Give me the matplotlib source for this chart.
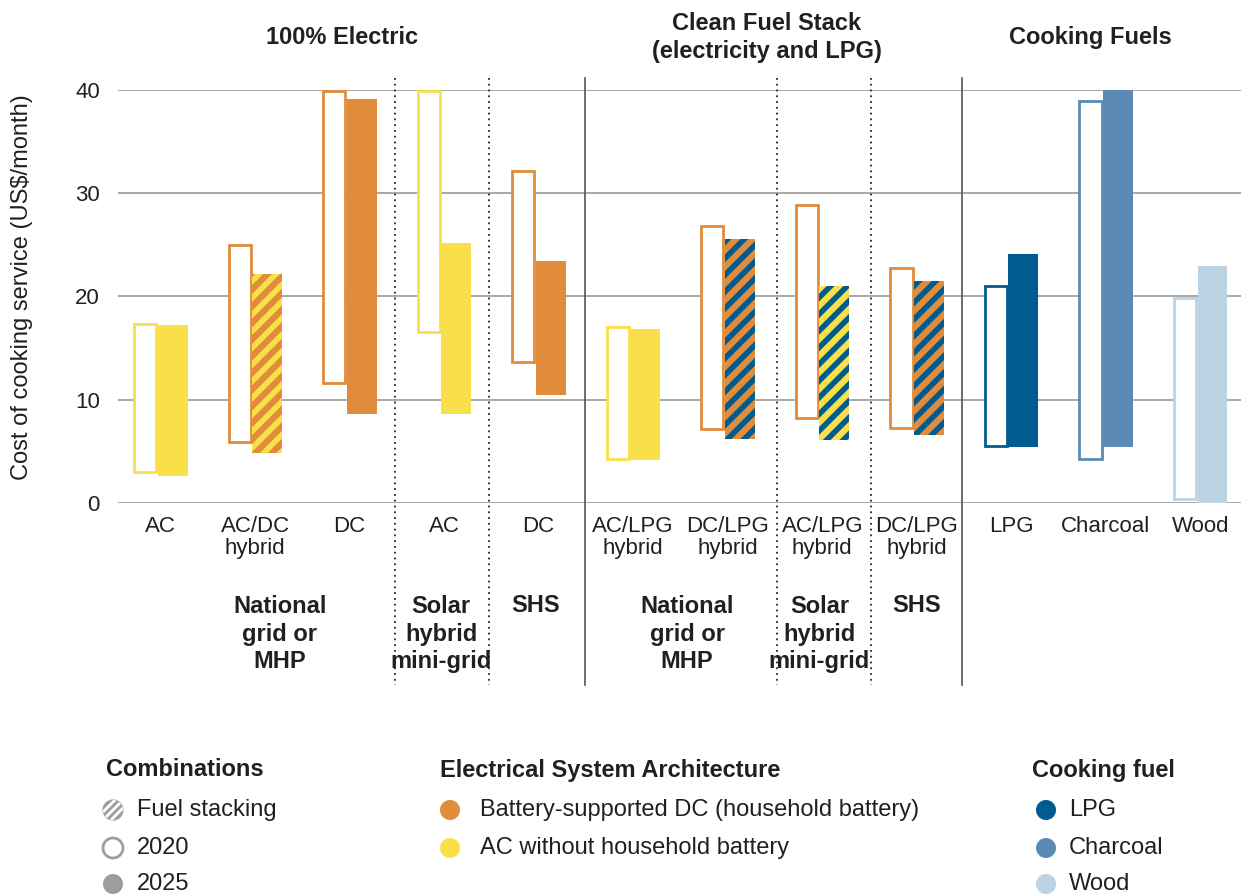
import numpy as np
import matplotlib
matplotlib.use("Agg")
import matplotlib.pyplot as plt
from matplotlib.patches import Circle
from matplotlib.lines import Line2D

plt.rcParams['font.family'] = ['Liberation Sans', 'DejaVu Sans']
plt.rcParams['hatch.linewidth'] = 4.0

# --- data ---
categories = ["AC", "AC/DC\nhybrid", "DC", "AC", "DC",
              "AC/LPG\nhybrid", "DC/LPG\nhybrid", "AC/LPG\nhybrid", "DC/LPG\nhybrid",
              "LPG", "Charcoal", "Wood"]
low_2020 = [3.0, 5.9, 11.6, 16.6, 13.7, 4.3, 7.2, 8.2, 7.3, 5.5, 4.3, 0.4]
high_2020 = [17.3, 25.0, 39.9, 39.9, 32.2, 17.0, 26.8, 28.9, 22.8, 21.0, 38.9, 19.9]
low_2025 = [2.6, 4.8, 8.6, 8.6, 10.5, 4.2, 6.2, 6.1, 6.6, 5.4, 5.4, 0.0]
high_2025 = [17.2, 22.2, 39.1, 25.2, 23.4, 16.9, 25.6, 21.0, 21.5, 24.1, 40.0, 23.0]

group_titles = ["100% Electric", "Clean Fuel Stack\n(electricity and LPG)", "Cooking Fuels"]
sub_labels = ["National\ngrid or\nMHP", "Solar\nhybrid\nmini-grid", "SHS",
              "National\ngrid or\nMHP", "Solar\nhybrid\nmini-grid", "SHS"]

# --- styles ---
ORANGE = "#E08C3B"
YELLOW = "#F9E04B"
LPG_C = "#005C8F"
CHAR_C = "#5B8BB4"
WOOD_C = "#BCD3E3"
GREY = "#9D9D9F"
TXT = "#231F20"

outline_col = [YELLOW, ORANGE, ORANGE, YELLOW, ORANGE, YELLOW, ORANGE, ORANGE, ORANGE,
               LPG_C, CHAR_C, WOOD_C]
fill_col = [YELLOW, ORANGE, ORANGE, YELLOW, ORANGE, YELLOW, ORANGE, YELLOW, ORANGE,
            LPG_C, CHAR_C, WOOD_C]
stripe_col = [None, YELLOW, None, None, None, None, LPG_C, LPG_C, LPG_C, None, None, None]

W, H = 1241, 894
fig = plt.figure(figsize=(W / 100, H / 100), dpi=100)
ax = fig.add_axes([118 / W, 1 - 503 / H, 1 - 118 / W, 413 / H])

x = np.arange(len(categories))
lo20, hi20 = np.array(low_2020), np.array(high_2020)
lo25, hi25 = np.array(low_2025), np.array(high_2025)

# 2020 outline bars
ax.bar(x - 0.25, hi20 - lo20, bottom=lo20, width=0.235, align='edge',
       facecolor='white', edgecolor=outline_col, linewidth=2.0, zorder=3)
# 2025 filled bars (striped where fuels are stacked)
for i in x:
    if stripe_col[i] is None:
        ax.bar(i, hi25[i] - lo25[i], bottom=lo25[i], width=0.317, align='edge',
               color=fill_col[i], linewidth=0, zorder=3)
    else:
        ax.bar(i, hi25[i] - lo25[i], bottom=lo25[i], width=0.317, align='edge',
               facecolor=fill_col[i], edgecolor=stripe_col[i], hatch='//',
               linewidth=0, zorder=3)

ax.set_xlim(-0.42, 11.46)
ax.set_ylim(0, 40)
ax.set_yticks([0, 10, 20, 30, 40])
ax.grid(axis='y', color='#9a9a9a', linewidth=1.2)
ax.set_axisbelow(True)
for s in ax.spines.values():
    s.set_visible(False)
ax.tick_params(axis='y', length=0, pad=13, labelsize=16, labelcolor=TXT)
ax.tick_params(axis='x', length=0, pad=9, labelsize=16, labelcolor=TXT)
ax.set_xticks(x + 0.03, categories)
for t in ax.get_xticklabels():
    t.set_linespacing(1.12)

# separators
for xs in [2.51, 3.5, 6.55, 7.55]:
    ax.plot([xs, xs], [41.2, -17.6], color='#222222', linestyle=(0, (1, 2.2)),
            linewidth=1.3, clip_on=False)
for xs in [4.52, 8.51]:
    ax.plot([xs, xs], [41.2, -17.6], color='#555555', linewidth=1.2, clip_on=False)

# group titles and sub-group labels
for xt, t in zip([1.95, 6.44, 9.87], group_titles):
    ax.text(xt, 45.1, t, ha='center', va='center', fontsize=17, fontweight='bold',
            color=TXT, linespacing=1.25)
for xt, t in zip([1.29, 3.0, 4.0, 5.6, 7.0, 8.03], sub_labels):
    va = 'center'
    yt = -12.69 if '\n' in t else -9.9
    ax.text(xt, yt, t, ha='center', va=va, fontsize=17, fontweight='bold',
            color=TXT, linespacing=1.25)

# overlay axes in pixel coords for legend and y label
lax = fig.add_axes([0, 0, 1, 1])
lax.set_xlim(0, W)
lax.set_ylim(H, 0)
lax.axis('off')
lax.patch.set_alpha(0)

lax.text(22, 287, "Cost of cooking service (US\\$/month)", rotation=90,
         ha='center', va='center', fontsize=17, color=TXT)

def title(xp, t):
    lax.text(xp, 770, t, ha='left', va='center', fontsize=17, fontweight='bold', color=TXT)

def item(xc, yc, xt, t, fc, ec=None):
    lax.add_patch(Circle((xc, yc), 10, facecolor=fc, edgecolor=ec if ec else fc,
                         linewidth=2 if ec else 0))
    lax.text(xt, yc, t, ha='left', va='center', fontsize=17, color=TXT)

title(106, "Combinations")
# hatched circle
c = Circle((113, 810), 10, facecolor=GREY, edgecolor='none')
lax.add_patch(c)
for d in [-8, 0, 8]:
    ln = Line2D([113 - 14 + d, 113 + 14 + d], [810 + 14, 810 - 14], color='white',
                linewidth=2.0)
    lax.add_line(ln)
    ln.set_clip_path(c)
lax.add_patch(Circle((113, 810), 9.5, facecolor='none', edgecolor=GREY, linewidth=1.5))
lax.text(137, 810, "Fuel stacking", ha='left', va='center', fontsize=17, color=TXT)
item(113, 848, 137, "2020", 'white', GREY)
item(113, 884, 137, "2025", GREY)

title(440, "Electrical System Architecture")
item(450, 810, 480, "Battery-supported DC (household battery)", ORANGE)
item(450, 848, 480, "AC without household battery", YELLOW)

title(1032, "Cooking fuel")
item(1046, 810, 1069, "LPG", LPG_C)
item(1046, 848, 1069, "Charcoal", CHAR_C)
item(1046, 884, 1069, "Wood", WOOD_C)

fig.savefig("out.png", dpi=100)
